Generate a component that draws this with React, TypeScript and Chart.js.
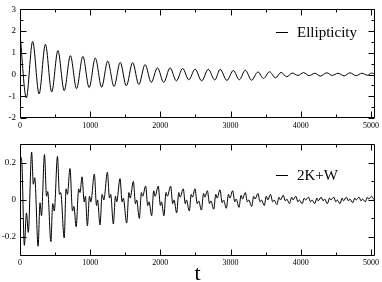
import React, { useEffect, useRef } from "react";
import { Chart, registerables } from "chart.js";
Chart.register(...registerables);

// ---- data ----
const ellipT = [0, 90, 180, 272, 362, 452, 540, 630, 718, 806, 896, 985, 1073, 1163, 1250, 1340, 1428, 1515, 1605, 1693, 1782, 1870, 1958, 2048, 2138, 2228, 2318, 2405, 2495, 2588, 2683, 2775, 2852, 2948, 3040, 3125, 3210, 3300, 3390, 3470, 3555, 3640, 3720, 3800, 3880, 3960, 4040, 4120, 4200, 4280, 4370, 4450, 4530, 4620, 4700, 4790, 4870, 4950, 5010, 5060];
const ellipV = [1.9, -1.07, 1.52, -0.89, 1.39, -0.8, 1.1, -0.74, 0.87, -0.65, 0.84, -0.6, 0.76, -0.58, 0.62, -0.55, 0.56, -0.52, 0.55, -0.46, 0.46, -0.36, 0.31, -0.36, 0.31, -0.29, 0.28, -0.24, 0.25, -0.29, 0.24, -0.25, 0.24, -0.27, 0.19, -0.24, 0.2, -0.26, 0.12, -0.18, 0.13, -0.15, 0.1, -0.1, 0.07, -0.04, 0.09, -0.05, 0.06, -0.07, 0.08, -0.04, 0.06, -0.06, 0.08, -0.05, 0.06, -0.03, 0.07, 0.0];

const virialT = [0, 12, 28, 62, 92, 118, 166, 190, 210, 258, 285, 306, 349, 378, 395, 440, 466, 488, 534, 562, 580, 630, 656, 676, 712, 748, 768, 800, 836, 855, 884, 915, 932, 960, 990, 1010, 1059, 1090, 1105, 1140, 1170, 1195, 1245, 1275, 1292, 1330, 1360, 1378, 1425, 1455, 1472, 1520, 1552, 1570, 1615, 1645, 1663, 1700, 1730, 1748, 1790, 1820, 1838, 1876, 1905, 1925, 1970, 2000, 2015, 2051, 2080, 2100, 2147, 2175, 2195, 2232, 2262, 2282, 2326, 2355, 2372, 2412, 2440, 2458, 2493, 2525, 2545, 2585, 2615, 2635, 2670, 2700, 2720, 2760, 2790, 2808, 2850, 2880, 2900, 2940, 2970, 2990, 3030, 3060, 3080, 3120, 3150, 3170, 3210, 3240, 3260, 3300, 3330, 3350, 3390, 3420, 3440, 3480, 3510, 3530, 3570, 3600, 3620, 3660, 3690, 3710, 3750, 3780, 3800, 3840, 3870, 3890, 3930, 3960, 3980, 4020, 4050, 4070, 4110, 4140, 4160, 4200, 4230, 4250, 4290, 4320, 4340, 4380, 4410, 4430, 4470, 4500, 4520, 4560, 4590, 4610, 4650, 4680, 4700, 4740, 4770, 4790, 4830, 4860, 4880, 4920, 4950, 4970, 5010, 5040, 5060];
const virialV = [0.2, 0.23, 0.19, -0.245, -0.07, -0.175, 0.258, 0.085, 0.12, -0.25, -0.015, -0.085, 0.245, 0.02, 0.045, -0.225, -0.02, -0.06, 0.235, 0.03, 0.04, -0.205, 0.06, 0.03, 0.17, -0.06, -0.035, -0.145, 0.06, 0.04, 0.125, -0.01, 0.02, -0.14, 0.02, -0.01, 0.14, -0.03, 0.0, -0.135, 0.03, 0.0, 0.15, 0.01, 0.03, -0.13, 0.02, -0.01, 0.115, -0.01, 0.01, -0.125, 0.04, 0.01, 0.1, -0.02, 0.0, -0.1, 0.04, 0.02, 0.075, -0.03, -0.01, -0.085, 0.05, 0.02, 0.075, -0.03, -0.01, -0.085, 0.04, 0.02, 0.075, -0.02, 0.0, -0.07, 0.04, 0.015, 0.06, -0.02, 0.0, -0.06, 0.03, 0.015, 0.06, -0.02, -0.005, -0.055, 0.035, 0.015, 0.05, -0.02, -0.005, -0.05, 0.03, 0.01, 0.055, -0.015, 0.0, -0.045, 0.03, 0.01, 0.05, -0.01, 0.005, -0.04, 0.025, 0.005, 0.04, -0.01, 0.0, -0.035, 0.02, 0.005, 0.035, -0.01, 0.0, -0.03, 0.02, 0.0, 0.03, -0.01, 0.0, -0.025, 0.015, 0.0, 0.025, -0.005, 0.005, -0.02, 0.015, 0.0, 0.02, -0.01, 0.0, -0.02, 0.01, 0.0, 0.015, -0.01, 0.0, -0.02, 0.01, -0.005, 0.015, -0.005, 0.005, -0.02, 0.01, 0.0, 0.015, -0.01, 0.0, -0.02, 0.01, -0.005, 0.015, -0.005, 0.005, -0.015, 0.01, 0.0, 0.015, -0.005, 0.005, -0.01, 0.015, 0.005, 0.02, 0.005, 0.01];

const xTickLabels = [0, 1000, 2000, 3000, 4000, 5000];
const xMinor = [500, 1500, 2500, 3500, 4500];
const topYTicks = [-2, -1, 0, 1, 2, 3];
const topYMinor = [-1.5, -0.5, 0.5, 1.5, 2.5];
const botYTicks = [-0.2, 0, 0.2];
const botYMinor = [-0.1, 0.1];

const X_MAX = 5060;
const SERIF = "'Liberation Serif', 'Times New Roman', serif";

function framePlugin(yMajor: number[], yMinor: number[], legendText: string, legendY: number) {
  return {
    id: "frame",
    afterDatasetsDraw(chart: any) {
      const { ctx, chartArea: a, scales } = chart;
      const xs = scales.x;
      const ys = scales.y;
      ctx.save();
      ctx.strokeStyle = "#000";
      ctx.lineWidth = 1;
      const L = Math.round(a.left) + 0.5;
      const R = Math.round(a.right) - 0.5;
      const T = Math.round(a.top) + 0.5;
      const B = Math.round(a.bottom) - 0.5;
      ctx.beginPath();
      ctx.rect(L, T, R - L, B - T);
      ctx.stroke();
      ctx.beginPath();
      const xt = (v: number, len: number) => {
        const p = Math.round(xs.getPixelForValue(v)) + 0.5;
        ctx.moveTo(p, T);
        ctx.lineTo(p, T + len);
        ctx.moveTo(p, B);
        ctx.lineTo(p, B - len);
      };
      const yt = (v: number, len: number) => {
        const p = Math.round(ys.getPixelForValue(v)) + 0.5;
        ctx.moveTo(L, p);
        ctx.lineTo(L + len, p);
        ctx.moveTo(R, p);
        ctx.lineTo(R - len, p);
      };
      xTickLabels.forEach((v) => xt(v, 6));
      xMinor.forEach((v) => xt(v, 3));
      yMajor.forEach((v) => yt(v, 6));
      yMinor.forEach((v) => yt(v, 3));
      ctx.stroke();
      // legend
      ctx.beginPath();
      ctx.moveTo(276, legendY + 0.5);
      ctx.lineTo(288, legendY + 0.5);
      ctx.stroke();
      ctx.fillStyle = "#000";
      ctx.font = `15px ${SERIF}`;
      ctx.textBaseline = "middle";
      ctx.textAlign = "left";
      ctx.fillText(legendText, 297, legendY + 1);
      ctx.restore();
    },
  };
}

function makeConfig(
  label: string,
  ts: number[],
  vs: number[],
  yMin: number,
  yMax: number,
  yMajor: number[],
  yMinor: number[],
  padTop: number,
  xHeight: number,
  legendY: number,
  withTitle: boolean
): any {
  return {
    type: "line",
    data: {
      datasets: [
        {
          label,
          data: ts.map((t, i) => ({ x: t, y: vs[i] })),
          borderColor: "#000",
          borderWidth: 1,
          pointRadius: 0,
          fill: false,
          cubicInterpolationMode: "monotone",
        },
      ],
    },
    options: {
      animation: false,
      responsive: false,
      maintainAspectRatio: false,
      layout: { padding: { top: padTop, right: 6.5, left: 0, bottom: 0 } },
      plugins: { legend: { display: false }, tooltip: { enabled: false } },
      scales: {
        x: {
          type: "linear",
          min: 0,
          max: X_MAX,
          afterBuildTicks: (s: any) => {
            s.ticks = xTickLabels.map((v) => ({ value: v }));
          },
          afterFit: (s: any) => {
            s.height = xHeight;
          },
          grid: { display: false, drawTicks: false },
          border: { display: false },
          ticks: {
            padding: 3,
            autoSkip: false,
            maxRotation: 0,
            color: "#000",
            font: { family: SERIF, size: 8 },
            callback: (v: any) => String(v),
          },
          title: withTitle
            ? {
                display: true,
                text: "t",
                color: "#000",
                font: { family: SERIF, size: 22, lineHeight: 0.73 },
                padding: { top: 0, bottom: 0 },
              }
            : { display: false },
        },
        y: {
          type: "linear",
          min: yMin,
          max: yMax,
          afterBuildTicks: (s: any) => {
            s.ticks = yMajor.map((v) => ({ value: v }));
          },
          afterFit: (s: any) => {
            s.width = 20;
          },
          grid: { display: false, drawTicks: false },
          border: { display: false },
          ticks: {
            padding: 4,
            color: "#000",
            font: { family: SERIF, size: 9 },
            callback: (v: any) => String(v),
          },
        },
      },
    },
    plugins: [framePlugin(yMajor, yMinor, label, legendY)],
  };
}

function Panel(props: { cfg: () => any; height: number; top: number }) {
  const ref = useRef<HTMLCanvasElement | null>(null);
  useEffect(() => {
    if (!ref.current) return;
    const chart = new Chart(ref.current, props.cfg());
    return () => chart.destroy();
  }, []);
  return (
    <canvas
      ref={ref}
      width={382}
      height={props.height}
      style={{ position: "absolute", left: 0, top: props.top, width: 382, height: props.height }}
    />
  );
}

export default function App() {
  return (
    <div style={{ position: "fixed", left: 0, top: 0, width: 382, height: 282, background: "#fff" }}>
      <Panel
        top={0}
        height={135}
        cfg={() => makeConfig("Ellipticity", ellipT, ellipV, -2, 3, topYTicks, topYMinor, 4.5, 17, 32, false)}
      />
      <Panel
        top={135}
        height={147}
        cfg={() => makeConfig("2K+W", virialT, virialV, -0.3, 0.3, botYTicks, botYMinor, 7, 26.5, 40, true)}
      />
    </div>
  );
}
